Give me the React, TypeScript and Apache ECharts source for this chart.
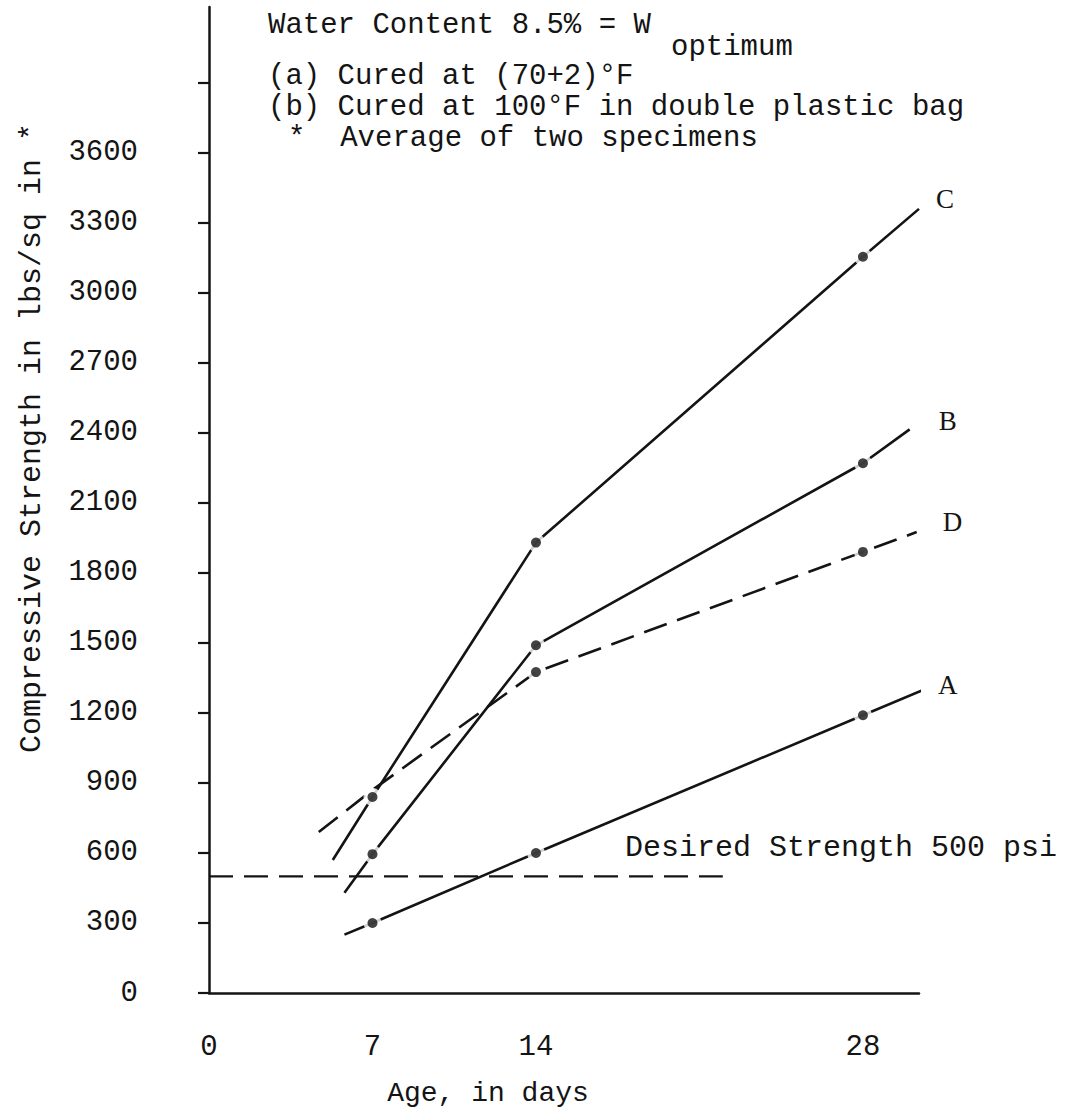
import React, { useEffect, useRef } from "react";
import * as echarts from "echarts";

// Curing ages (days) shown on the horizontal axis
const ageTicks = [0, 7, 14, 28];
// Strength axis ticks and labels (lbs/sq in)
const strengthTicks = [0, 300, 600, 900, 1200, 1500, 1800, 2100, 2400, 2700, 3000, 3300, 3600, 3900];
const strengthLabels = [0, 300, 600, 900, 1200, 1500, 1800, 2100, 2400, 2700, 3000, 3300, 3600];

// Measured strengths (average of two specimens) at 7, 14 and 28 days
const measuredA = [[7, 300], [14, 600], [28, 1190]];
const measuredB = [[7, 595], [14, 1490], [28, 2270]];
const measuredC = [[7, 840], [14, 1930], [28, 3155]];
const measuredD = [[14, 1375], [28, 1890]];

// Hand-drawn curves through the measurements, including their drawn extensions
const curveA = [[5.8, 250], [7, 300], [14, 600], [28, 1190], [30.5, 1295]];
const curveB = [[5.8, 430], [7, 595], [14, 1490], [28, 2270], [30.0, 2415]];
const curveC = [[5.3, 570], [7, 840], [14, 1930], [28, 3155], [30.4, 3360]];
const curveD = [[4.7, 690], [7, 870], [14, 1375], [28, 1890], [30.3, 1975]];

const curveNames = ["A", "B", "C", "D"];
// Nudges of the curve letters away from each curve's end
const letterOffsets = [[9, -6], [21, -8], [9, -10], [18, -10]];

// Desired strength level (psi) and the age range of its dashed line
const desiredStrength = 500;
const desiredSpan = [0, 22];

const MONO = "'Liberation Mono', 'DejaVu Sans Mono', monospace";
const SERIF = "'Liberation Serif', 'DejaVu Serif', serif";
const INK = "#141414";
const TXT = 29;

export default function App() {
  const ref = useRef<HTMLDivElement>(null);

  useEffect(() => {
    if (!ref.current) return;
    const chart = echarts.init(ref.current, null, { renderer: "svg" });

    const curves = [curveA, curveB, curveC, curveD];
    const measured = [measuredA, measuredB, measuredC, measuredD];

    const lineSeries = curves.map((pts, i) => ({
      type: "line",
      name: curveNames[i],
      data: pts,
      symbol: "none",
      z: 2,
      lineStyle: {
        color: INK,
        width: 2.6,
        type: curveNames[i] === "D" ? [24, 11] : "solid",
      },
      endLabel: {
        show: true,
        formatter: curveNames[i],
        color: INK,
        fontFamily: SERIF,
        fontSize: 27,
        offset: letterOffsets[i],
      },
    }));

    const haloSeries = measured.map((pts) => ({
      type: "scatter",
      data: pts,
      symbol: "circle",
      symbolSize: 18,
      itemStyle: { color: "#ffffff" },
      z: 3,
      silent: true,
    }));

    const dotSeries = measured.map((pts) => ({
      type: "scatter",
      data: pts,
      symbol: "circle",
      symbolSize: 10,
      itemStyle: { color: INK },
      z: 4,
      silent: true,
    }));

    const desiredSeries = {
      type: "line",
      data: [
        [desiredSpan[0], desiredStrength],
        [desiredSpan[1], desiredStrength],
      ],
      symbol: "none",
      z: 1,
      lineStyle: { color: INK, width: 2.2, type: [24, 11] },
    };

    const monoText = (text: string, x: number, y: number, size = TXT) => ({
      type: "text",
      x,
      y,
      style: { text, font: `${size}px ${MONO}`, fill: INK, verticalAlign: "middle" },
    });

    chart.setOption({
      animation: false,
      backgroundColor: "#ffffff",
      grid: { left: 209, right: 153, top: 7, bottom: 123, containLabel: false },
      xAxis: {
        type: "value",
        min: 0,
        max: 30.4,
        axisLine: { show: true, lineStyle: { color: INK, width: 2.5 } },
        axisTick: { show: false },
        splitLine: { show: false },
        axisLabel: {
          customValues: ageTicks,
          formatter: (v: number) => String(v),
          color: INK,
          fontFamily: MONO,
          fontSize: 29,
          margin: 40,
        },
      },
      yAxis: {
        type: "value",
        min: 0,
        max: 4225,
        axisLine: { show: true, lineStyle: { color: INK, width: 2.5 } },
        axisTick: {
          show: true,
          customValues: strengthTicks,
          length: 11,
          lineStyle: { color: INK, width: 2.2 },
        },
        splitLine: { show: false },
        axisLabel: {
          customValues: strengthLabels,
          formatter: (v: number) => String(v),
          color: INK,
          fontFamily: MONO,
          fontSize: 29,
          margin: 71,
        },
      },
      graphic: [
        {
          type: "text",
          x: 32,
          y: 438,
          rotation: Math.PI / 2,
          style: {
            text: "Compressive Strength in lbs/sq in *",
            font: `30px ${MONO}`,
            fill: INK,
            align: "center",
            verticalAlign: "middle",
          },
        },
        {
          type: "text",
          x: 488,
          y: 1093,
          style: {
            text: "Age, in days",
            font: `28px ${MONO}`,
            fill: INK,
            align: "center",
            verticalAlign: "middle",
          },
        },
        monoText("Water Content 8.5% = W", 268, 25),
        monoText("optimum", 671, 47),
        monoText("(a) Cured at (70+2)°F", 268, 76),
        monoText("(b) Cured at 100°F in double plastic bag", 268, 107),
        monoText("*  Average of two specimens", 288, 138),
        monoText("Desired Strength 500 psi", 625, 848, 30),
      ],
      series: [desiredSeries, ...lineSeries, ...haloSeries, ...dotSeries],
    });

    return () => chart.dispose();
  }, []);

  return (
    <div
      ref={ref}
      style={{ position: "fixed", left: 0, top: 0, width: 1072, height: 1116, background: "#fff" }}
    />
  );
}
